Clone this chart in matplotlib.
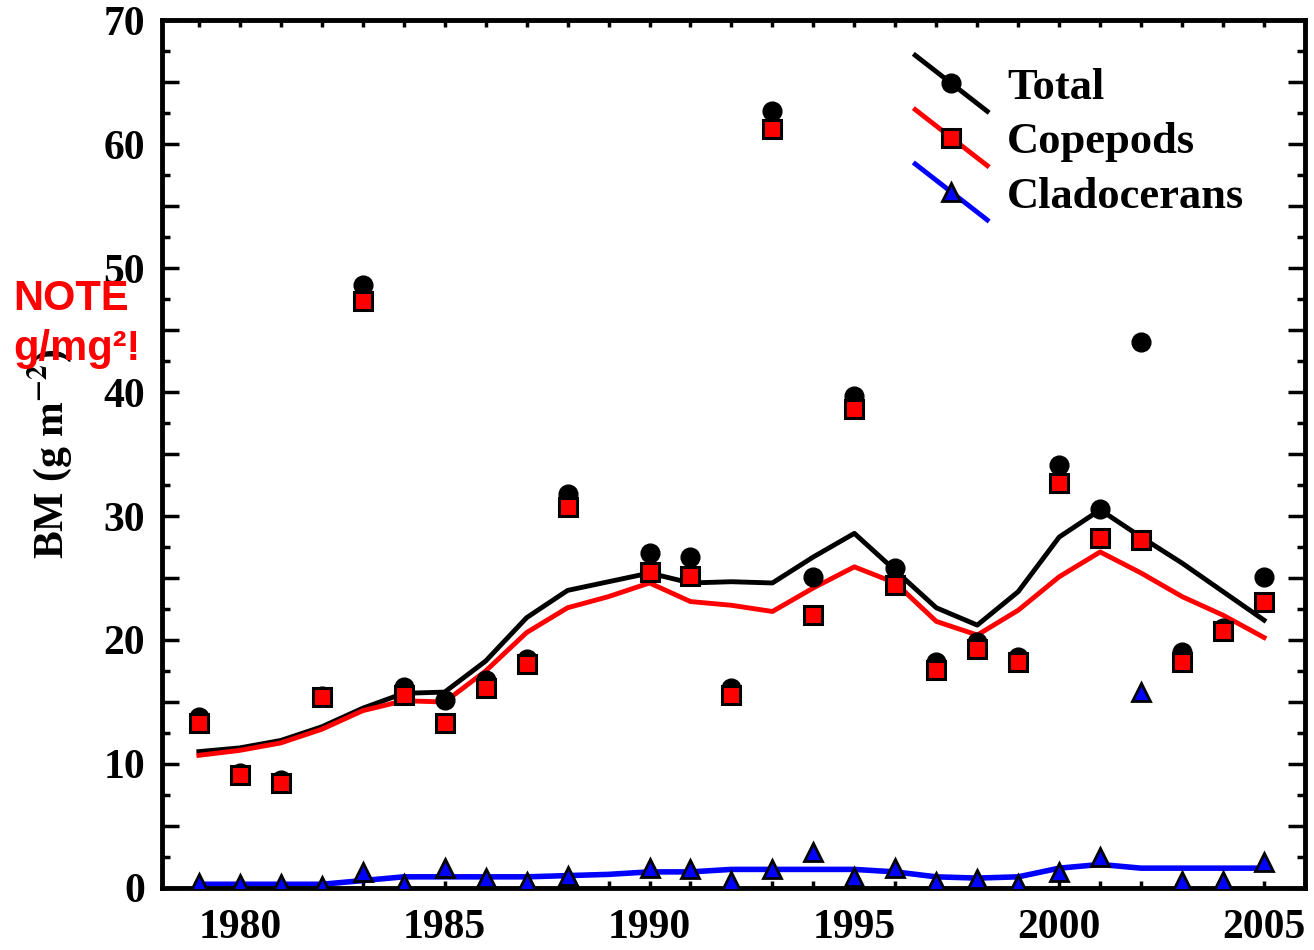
import numpy as np
import matplotlib
matplotlib.use("Agg")
import matplotlib.pyplot as plt
from matplotlib.lines import Line2D
from matplotlib.legend_handler import HandlerBase
from matplotlib.ticker import MultipleLocator, FuncFormatter

# data (1989 has no samples)
years = np.arange(1979, 2006)
total = [13.8, 9.3, 8.7, 15.5, 48.6, 16.2, 15.2, 16.8, 18.5, 31.8, np.nan, 27.0, 26.7, 16.1,
         62.7, 25.1, 39.7, 25.8, 18.2, 19.8, 18.6, 34.1, 30.6, 44.0, 19.0, 21.0, 25.1]
copepods = [13.3, 9.1, 8.5, 15.4, 47.3, 15.6, 13.3, 16.1, 18.1, 30.7, np.nan, 25.5, 25.2, 15.6,
            61.2, 22.0, 38.6, 24.4, 17.6, 19.3, 18.2, 32.7, 28.2, 28.1, 18.2, 20.7, 23.1]
cladocerans = [0.4, 0.3, 0.3, 0.2, 1.3, 0.3, 1.6, 0.8, 0.5, 1.0, np.nan, 1.6, 1.5, 0.6,
               1.5, 2.9, 0.9, 1.6, 0.5, 0.7, 0.3, 1.3, 2.5, 15.8, 0.6, 0.6, 2.1]

# smoothed trend lines
total_fit = [11.0, 11.3, 11.9, 13.0, 14.5, 15.7, 15.8, 18.3, 21.8, 24.0, 24.7, 25.4, 24.6, 24.7,
             24.6, 26.7, 28.6, 25.6, 22.6, 21.2, 23.9, 28.3, 30.5, 28.3, 26.2, 23.9, 21.6]
cope_fit = [10.7, 11.1, 11.7, 12.8, 14.3, 15.1, 15.0, 17.5, 20.6, 22.6, 23.5, 24.6, 23.1, 22.8,
            22.3, 24.2, 25.9, 24.6, 21.5, 20.4, 22.4, 25.1, 27.1, 25.4, 23.5, 22.0, 20.2]
clad_fit = [0.3, 0.3, 0.3, 0.3, 0.6, 0.9, 0.9, 0.9, 0.9, 1.0, 1.1, 1.3, 1.3, 1.5,
            1.5, 1.5, 1.5, 1.3, 0.9, 0.8, 0.9, 1.6, 1.9, 1.6, 1.6, 1.6, 1.6]

plt.rcParams['font.family'] = ['Liberation Serif', 'DejaVu Serif']
plt.rcParams['font.weight'] = 'bold'
plt.rcParams['mathtext.fontset'] = 'stix'

fig = plt.figure(figsize=(13.14, 9.5), dpi=100)
ax = fig.add_axes([162/1314, 1-888/950, (1305-162)/1314, (888-20)/950])

ax.plot(years, total_fit, '-', color='black', lw=3.5, zorder=2)
ax.plot(years, cope_fit, '-', color='red', lw=3.5, zorder=2)
ax.plot(years, clad_fit, '-', color='blue', lw=4, zorder=2)
ax.plot(years, total, 'o', color='black', ms=13.5, zorder=3)
ax.plot(years, copepods, 's', mfc='red', mec='black', mew=2.2, ms=13.5, zorder=4)
ax.plot(years, cladocerans, '^', mfc='blue', mec='black', mew=2, ms=13, zorder=5)

ax.set_xlim(1978.1, 2006.0)
ax.set_ylim(0, 70)

ax.xaxis.set_major_locator(MultipleLocator(5))
ax.xaxis.set_minor_locator(MultipleLocator(1))
ax.yaxis.set_major_locator(MultipleLocator(5))
ax.yaxis.set_minor_locator(MultipleLocator(2.5))
ax.yaxis.set_major_formatter(FuncFormatter(lambda v, p: '%d' % v if v % 10 == 0 else ''))

ax.tick_params(axis='both', which='both', direction='in', top=True, right=True, width=2.5)
ax.tick_params(axis='y', which='major', length=12, pad=12, labelsize=30)
ax.tick_params(axis='y', which='minor', length=6)
ax.tick_params(axis='x', which='both', length=5, pad=15, labelsize=30)
for s in ax.spines.values():
    s.set_linewidth(3.5)

ax.set_ylabel(r'BM (g m$^{\mathbf{-2}}$)', fontsize=30, fontweight='bold')
ax.yaxis.set_label_coords(-0.077, 0.5)


class DiagHandler(HandlerBase):
    def create_artists(self, legend, orig_handle, xdescent, ydescent, width, height,
                       fontsize, trans):
        cy = height / 2 - ydescent
        dy = 0.9 * height
        ln = Line2D([-xdescent, -xdescent + width], [cy + dy, cy - dy],
                    color=orig_handle.get_color(), lw=3.5)
        mk = Line2D([-xdescent + width / 2], [cy], marker=orig_handle.get_marker(),
                    mfc=orig_handle.get_markerfacecolor(), mec=orig_handle.get_markeredgecolor(),
                    mew=orig_handle.get_markeredgewidth(), ms=orig_handle.get_markersize(),
                    ls='none')
        ln.set_transform(trans)
        mk.set_transform(trans)
        return [ln, mk]


h1 = Line2D([], [], color='black', marker='o', mfc='black', mec='black', ms=13.5)
h2 = Line2D([], [], color='red', marker='s', mfc='red', mec='black', mew=2.2, ms=13.5)
h3 = Line2D([], [], color='blue', marker='^', mfc='blue', mec='black', mew=2, ms=13)
ax.legend([h1, h2, h3], ['Total', 'Copepods', 'Cladocerans'],
          handler_map={Line2D: DiagHandler()}, loc='upper left',
          bbox_to_anchor=(0.659, 0.945), frameon=False, fontsize=32,
          handlelength=1.62, handletextpad=0.45, labelspacing=0.32, borderpad=0,
          borderaxespad=0)

fig.text(13/1314, 1-310/950, 'NOTE', color='red', fontsize=30, fontweight='bold',
         family=['Liberation Sans', 'DejaVu Sans'], va='baseline', ha='left')
fig.text(13/1314, 1-360/950, 'g/mg²!', color='red', fontsize=30, fontweight='bold',
         family=['Liberation Sans', 'DejaVu Sans'], va='baseline', ha='left')

fig.savefig('out.png', dpi=100)
